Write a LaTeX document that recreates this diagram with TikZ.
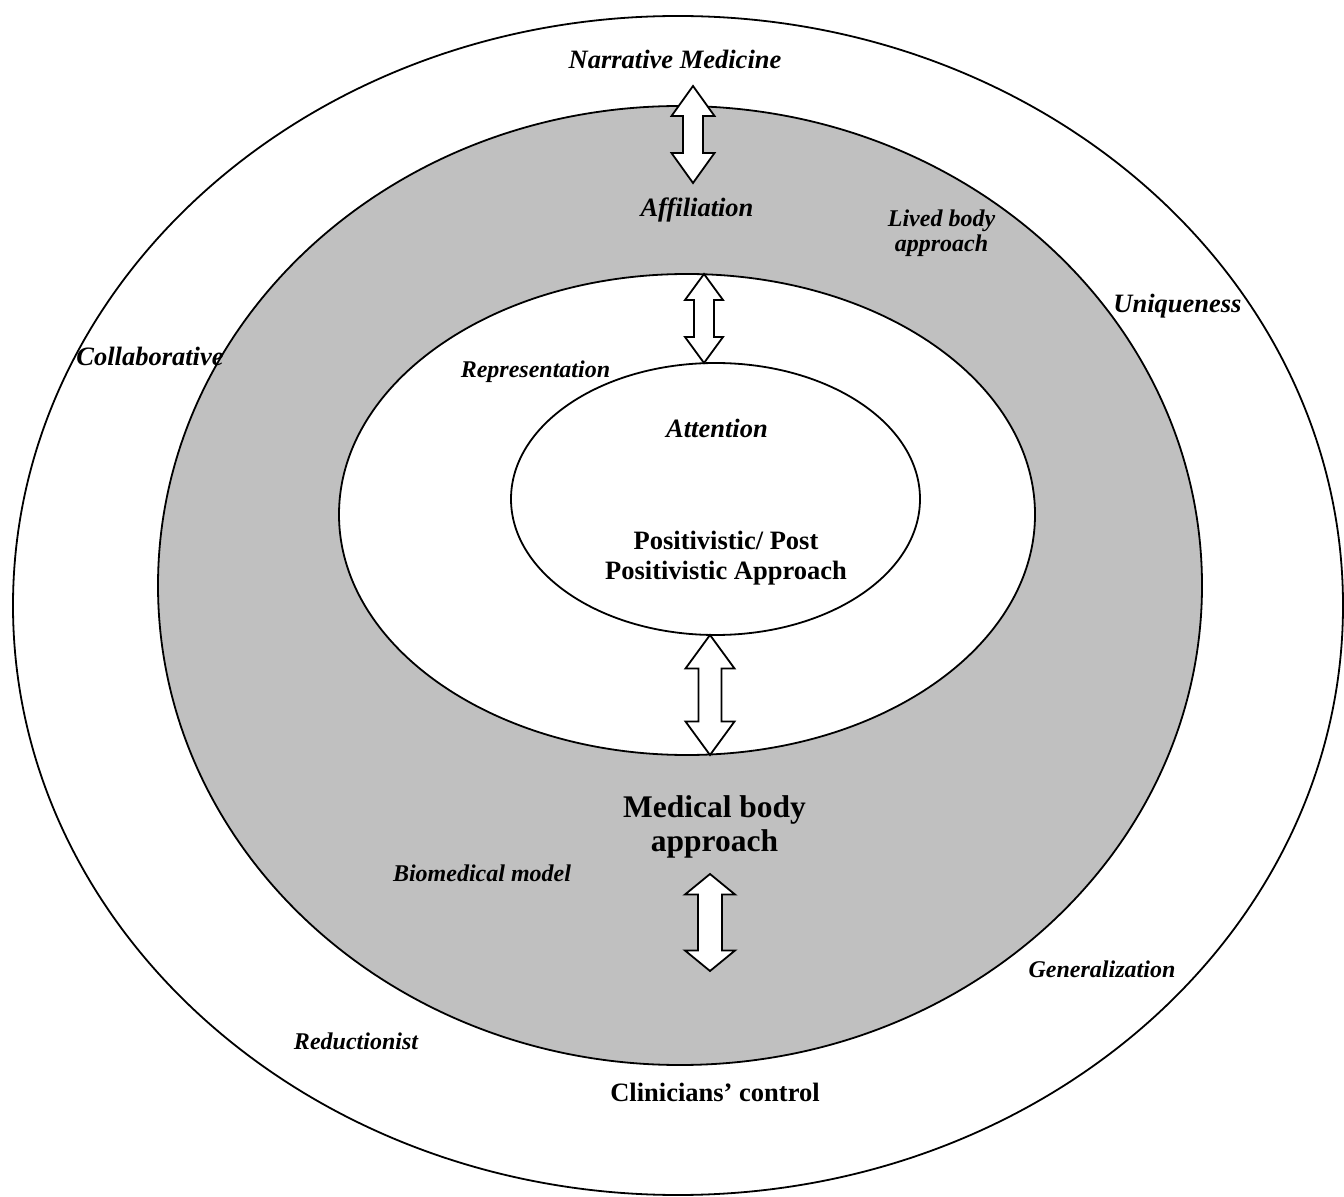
\documentclass[tikz,border=0pt]{standalone}
\usepackage{fontspec}
\setmainfont{Liberation Serif}
\usetikzlibrary{calc}
\definecolor{bodygray}{RGB}{192,192,192}

% block double arrow between two tips: #3 half head, #4 half shaft, #5 head length
\newcommand{\dblarrow}[5]{%
  \draw[arrowbox] let \p1=(#1), \p2=(#2) in
    (\p1) -- (\x1+#3,\y1-#5) -- (\x1+#4,\y1-#5) -- (\x2+#4,\y2+#5) -- (\x2+#3,\y2+#5)
    -- (\p2) -- (\x2-#3,\y2+#5) -- (\x2-#4,\y2+#5) -- (\x1-#4,\y1-#5) -- (\x1-#3,\y1-#5) -- cycle;}

\begin{document}
\begin{tikzpicture}[x=0.5pt, y=-0.5pt,
  ringline/.style={draw=black, line width=0.9pt},
  arrowbox/.style={draw=black, fill=white, line width=0.9pt, line join=miter},
  biglabel/.style={font=\fontsize{13.25}{15}\selectfont\bfseries\itshape, inner sep=0pt, anchor=base},
  smalllabel/.style={font=\fontsize{12}{12.5}\selectfont\bfseries\itshape, inner sep=0pt, anchor=base, align=center},
  boldlabel/.style={font=\fontsize{13.25}{15}\selectfont\bfseries, inner sep=0pt, anchor=base, align=center}]
  \useasboundingbox (0,0) rectangle (1344,1197);

  % draw the four nested ellipses
  \draw[ringline, fill=white] (678,605.5) ellipse [x radius=665, y radius=589.5];
  \draw[ringline, fill=bodygray] (680,585.5) ellipse [x radius=522, y radius=479.5];
  \draw[ringline, fill=white] (687,514.5) ellipse [x radius=348, y radius=240.5];
  \draw[ringline, fill=white] (715.5,499) ellipse [x radius=204.5, y radius=136];

  % arrow tips
  \coordinate (narrative_tip) at (693,86);
  \coordinate (affiliation_tip) at (693,183);
  \coordinate (mid_top) at (704,274);
  \coordinate (inner_top) at (704,363);
  \coordinate (inner_bottom) at (710,635);
  \coordinate (mid_bottom) at (710,755);
  \coordinate (medical_up) at (710,874);
  \coordinate (medical_down) at (710,971);

  % draw the double block arrows
  \dblarrow{narrative_tip}{affiliation_tip}{10.75pt}{5pt}{15pt}
  \dblarrow{mid_top}{inner_top}{9.5pt}{5pt}{13pt}
  \dblarrow{inner_bottom}{mid_bottom}{12.25pt}{5.75pt}{16.75pt}
  \dblarrow{medical_up}{medical_down}{12.5pt}{6pt}{10.25pt}

  % outer ring labels
  \node[biglabel] (narrative) at (675,69) {Narrative Medicine};
  \node[biglabel] (collaborative) at (150,366) {Collaborative};
  \node[biglabel] (uniqueness) at (1177.5,312.7) {Uniqueness};
  \node[smalllabel] (generalization) at (1102,977) {Generalization};
  \node[smalllabel] (reductionist) at (356,1049) {Reductionist};
  \node[boldlabel] (clinicians) at (715,1101.7) {Clinicians’ control};

  % gray ring labels
  \node[biglabel] (affiliation) at (697,217) {Affiliation};
  \node[smalllabel] (livedbody) at (941.5,251.7) {Lived body\\approach};
  \node[boldlabel, font=\fontsize{15.75}{17}\selectfont\bfseries] (medicalbody) at (714.5,851.7) {Medical body\\approach};
  \node[smalllabel] (biomedical) at (482,881) {Biomedical model};

  % inner labels
  \node[smalllabel] (representation) at (535.5,377.7) {Representation};
  \node[biglabel] (attention) at (717,438) {Attention};
  \node[boldlabel] (positivistic) at (726,580) {Positivistic/ Post\\Positivistic Approach};
\end{tikzpicture}
\end{document}
